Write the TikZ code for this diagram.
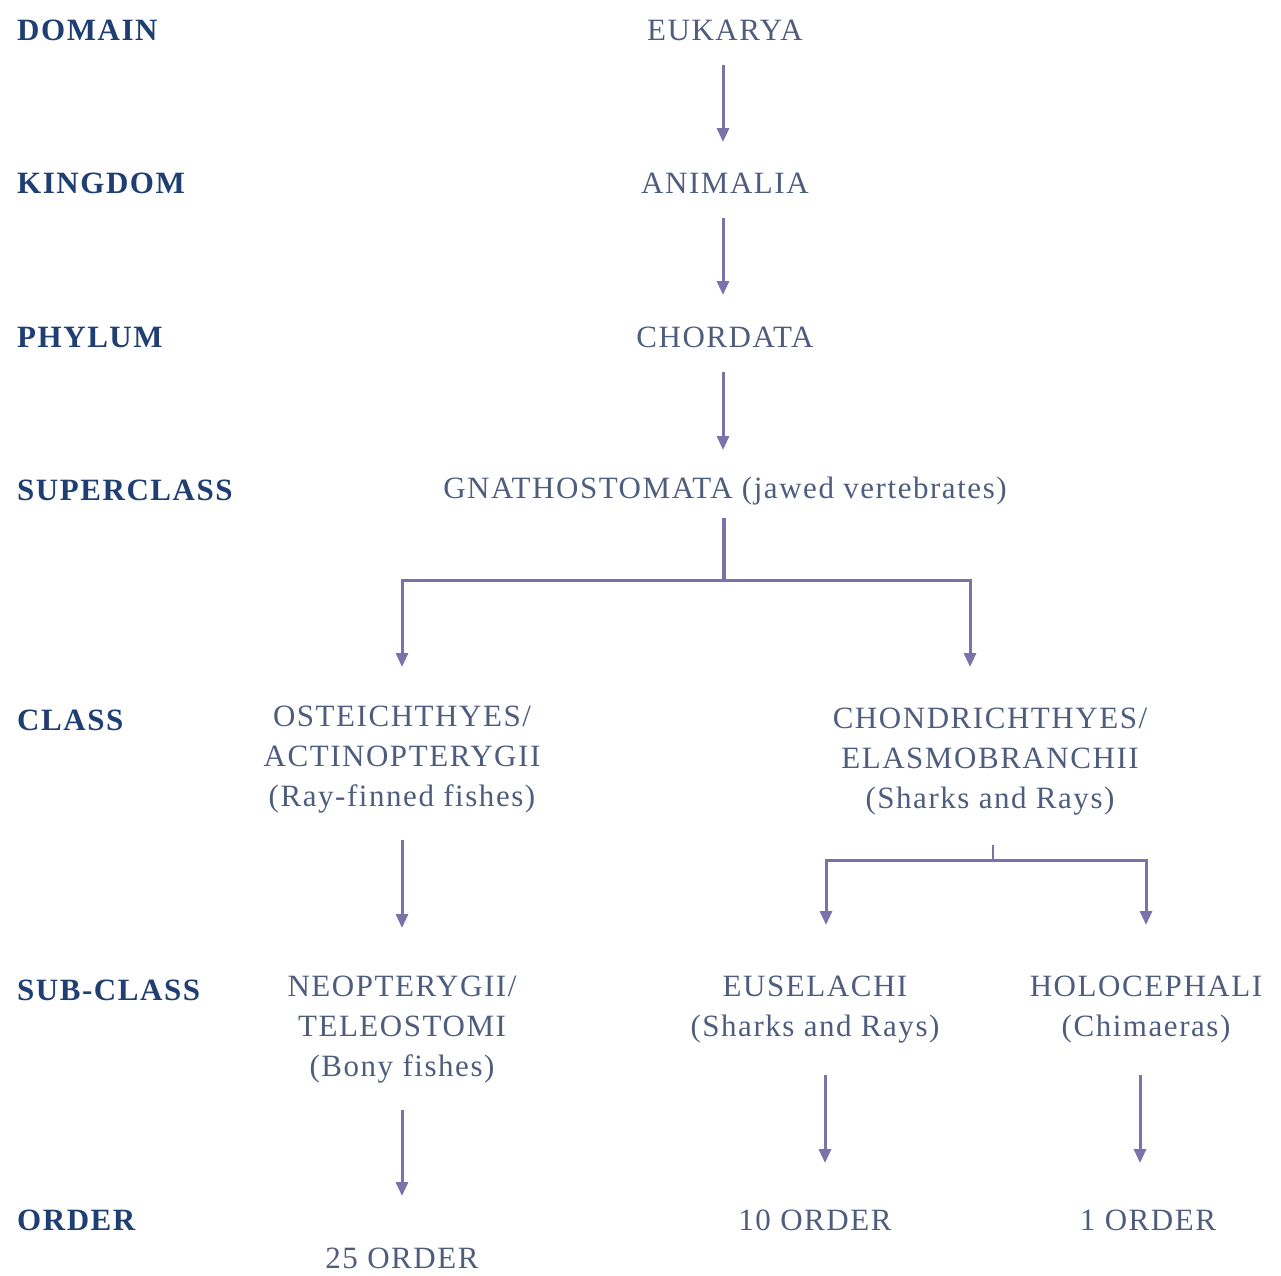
\documentclass[tikz,border=0pt]{standalone}
\usepackage{fontspec}
\setmainfont{Liberation Serif}[LetterSpace=5]
\usetikzlibrary{calc,arrows.meta}
\definecolor{txt}{HTML}{4E5D7E}
\definecolor{lab}{HTML}{1F3F72}
\definecolor{arw}{HTML}{7A72A8}
\begin{document}
\begin{tikzpicture}[x=1pt,y=-1pt,
  tx/.style={inner sep=0pt,text=txt,font=\fontsize{31}{40}\selectfont,align=center},
  rank/.style={inner sep=0pt,anchor=west,text=lab,font=\fontsize{31}{40}\selectfont\bfseries},
  arr/.style={draw=arw,line width=3pt,-{Triangle[width=12pt,length=14pt]}},
  ln/.style={draw=arw,line width=3.4pt}]
\useasboundingbox (0,0) rectangle (1281,1275);
% rank labels
\node[rank] (rDomain) at (17,30) {DOMAIN};
\node[rank] (rKingdom) at (17,183) {KINGDOM};
\node[rank] (rPhylum) at (17,337) {PHYLUM};
\node[rank] (rSuper) at (17,490) {SUPERCLASS};
\node[rank] (rClass) at (17,720) {CLASS};
\node[rank] (rSub) at (17,990) {SUB-CLASS};
\node[rank] (rOrder) at (17,1220) {ORDER};
% taxa
\node[tx] (euk) at (725,30) {EUKARYA};
\node[tx] (ani) at (725,183) {ANIMALIA};
\node[tx] (cho) at (725,337) {CHORDATA};
\node[tx] (gna) at (725,491) {GNATHOSTOMATA (jawed vertebrates)};
\node[tx] (ost) at (402,760) {OSTEICHTHYES/\\ACTINOPTERYGII\\(Ray-finned fishes)};
\node[tx] (chn) at (990,762) {CHONDRICHTHYES/\\ELASMOBRANCHII\\(Sharks and Rays)};
\node[tx] (neo) at (402,1030) {NEOPTERYGII/\\TELEOSTOMI\\(Bony fishes)};
\node[tx] (eus) at (815,1010) {EUSELACHI\\(Sharks and Rays)};
\node[tx] (hol) at (1146,1010) {HOLOCEPHALI\\(Chimaeras)};
\node[tx] (o25) at (402,1258) {25 ORDER};
\node[tx] (o10) at (815,1220) {10 ORDER};
\node[tx] (o1) at (1148,1220) {1 ORDER};
% connectors
\draw[arr] ($(euk)+(-2,35)$) -- ($(ani)+(-2,-41)$);
\draw[arr] ($(ani)+(-2,35)$) -- ($(cho)+(-2,-42)$);
\draw[arr] ($(cho)+(-2,35)$) -- ($(gna)+(-2,-41)$);
\coordinate (j1) at ($(gna)+(-1,89)$);
\draw[ln] ($(gna)+(-1,27)$) -- (j1);
\draw[arr] (j1) -| ($(ost)+(0,-93)$);
\draw[arr] (j1) -| ($(chn)+(-20,-95)$);
\draw[arr] ($(ost)+(0,80)$) -- ($(neo)+(0,-102)$);
\coordinate (j2) at ($(chn)+(3,98)$);
\draw[draw=arw,line width=1.5pt] ($(chn)+(3,83)$) -- (j2);
\draw[arr] (j2) -| ($(eus)+(11,-85)$);
\draw[arr] (j2) -| ($(hol)+(0,-85)$);
\draw[arr] ($(neo)+(0,80)$) -- ($(o25)+(0,-62)$);
\draw[arr] ($(eus)+(10,65)$) -- ($(o10)+(10,-57)$);
\draw[arr] ($(hol)+(-6,65)$) -- ($(o1)+(-8,-57)$);
\end{tikzpicture}
\end{document}
